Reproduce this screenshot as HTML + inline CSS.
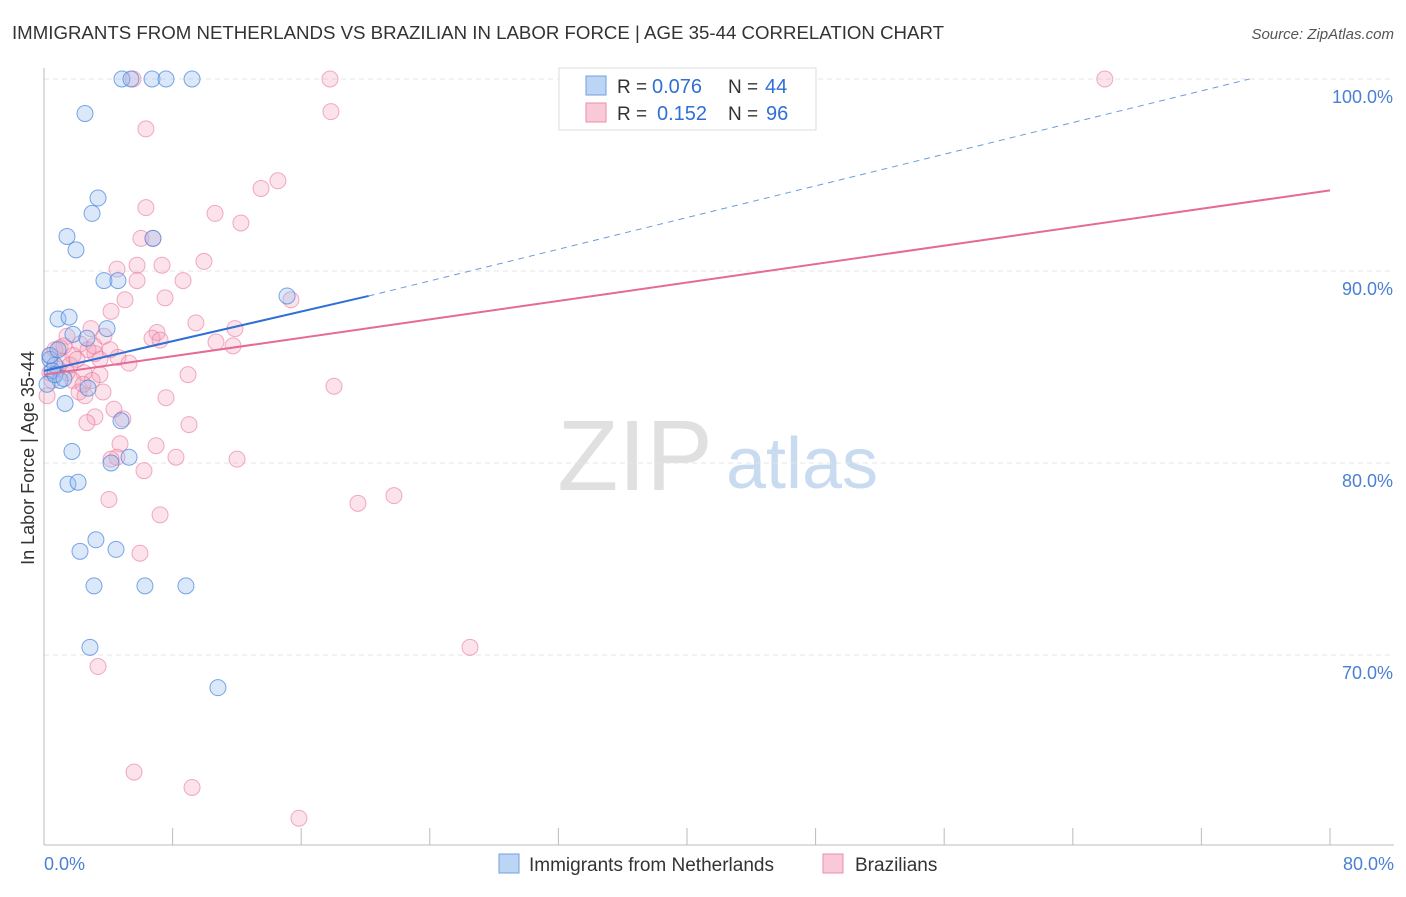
<!DOCTYPE html>
<html><head><meta charset="utf-8"><style>
body{margin:0;background:#fff;font-family:"Liberation Sans",sans-serif;}
svg text{font-family:"Liberation Sans",sans-serif;}
</style></head><body>
<svg id="chart" width="1406" height="892" viewBox="0 0 1406 892" xmlns="http://www.w3.org/2000/svg">
<text x="12" y="39" font-size="18" fill="#333" textLength="932" lengthAdjust="spacingAndGlyphs">IMMIGRANTS FROM NETHERLANDS VS BRAZILIAN IN LABOR FORCE | AGE 35-44 CORRELATION CHART</text>
<text x="1394" y="39" font-size="15" fill="#555" text-anchor="end" font-style="italic">Source: ZipAtlas.com</text>
<g>
<text x="635" y="490" font-size="100" fill="#e0e0e0" font-family="Liberation Serif, serif" text-anchor="middle">ZIP</text>
<text x="802" y="488" font-size="72" fill="#c9dbf0" text-anchor="middle">atlas</text>
</g>
<g id="grid"></g>
<g id="axes"></g>
<g id="pts"></g>
<g id="trends"></g>
<text transform="translate(34,458) rotate(-90)" font-size="18" fill="#333" text-anchor="middle">In Labor Force | Age 35-44</text>
<g>
<rect x="559" y="68" width="257" height="62" fill="#fff" stroke="#ddd"/>
<rect x="586" y="76" width="20" height="19" fill="#bcd5f5" stroke="#6fa0e0"/>
<text x="617" y="93" font-size="19" fill="#333">R =</text>
<text x="652" y="93" font-size="20" fill="#2f6fd6">0.076</text>
<text x="728" y="93" font-size="19" fill="#333">N =</text>
<text x="765" y="93" font-size="20" fill="#2f6fd6">44</text>
<rect x="586" y="103" width="20" height="19" fill="#f9c9d7" stroke="#eb8fae"/>
<text x="617" y="120" font-size="19" fill="#333">R =</text>
<text x="657" y="120" font-size="20" fill="#2f6fd6">0.152</text>
<text x="728" y="120" font-size="19" fill="#333">N =</text>
<text x="766" y="120" font-size="20" fill="#2f6fd6">96</text>
</g>
<g>
<rect x="499" y="854" width="20" height="19" fill="#bcd5f5" stroke="#6fa0e0"/>
<text x="529" y="871" font-size="19" fill="#333">Immigrants from Netherlands</text>
<rect x="823" y="854" width="20" height="19" fill="#f9c9d7" stroke="#eb8fae"/>
<text x="855" y="871" font-size="19" fill="#333">Brazilians</text>
</g>
</svg>
<script>
const yTicks=[70,80,90,100];
const yTickLabels=["70.0%","80.0%","90.0%","100.0%"];
const xEndLabels=["0.0%","80.0%"];
const blueX=[4.85,5.41,6.72,7.59,9.21,2.55,3.36,2.99,1.43,1.99,6.78,3.73,4.60,15.12,0.87,1.56,3.92,1.80,2.67,0.37,0.68,0.50,1.00,2.74,1.31,4.79,1.74,4.17,5.29,1.49,2.12,2.24,3.23,4.48,3.11,6.28,8.83,2.86,10.82,0.19,0.68,1.24,0.37,0.87];
const blueY=[100,100,100,100,100,98.2,93.8,93.0,91.8,91.1,91.7,89.5,89.5,88.7,87.5,87.6,87.0,86.7,86.5,85.4,85.1,84.8,84.3,83.9,83.1,82.2,80.6,80.0,80.3,78.9,79.0,75.4,76.0,75.5,73.6,73.6,73.6,70.4,68.3,84.1,84.6,84.4,85.6,85.9];
const pinkX=[17.79,65.99,5.54,17.85,6.34,14.55,13.50,6.34,10.64,12.25,6.03,6.78,4.54,5.79,7.34,9.95,8.65,5.79,7.53,5.04,4.17,15.36,9.45,11.88,7.03,6.72,7.22,10.70,11.76,3.73,2.92,1.43,1.00,2.24,1.80,3.17,4.60,5.29,2.49,3.48,1.80,2.99,8.96,18.04,3.67,2.18,7.59,4.91,3.17,4.35,2.67,9.02,4.73,6.97,8.21,4.54,4.17,12.01,6.22,4.04,19.53,21.77,7.22,5.97,3.36,26.50,5.60,9.21,15.86,0.37,0.68,1.12,0.19,0.37,1.62,2.74,2.05,1.24,0.50,2.55,3.48,0.87,1.43,4.11,3.11,2.43];
const pinkY=[100,100,100,98.3,97.4,94.7,94.3,93.3,93.0,92.5,91.7,91.7,90.1,90.3,90.3,90.5,89.5,89.5,88.6,88.5,87.9,88.5,87.3,87.0,86.8,86.5,86.4,86.3,86.1,86.6,87.0,86.6,86.0,86.2,85.6,85.7,85.5,85.2,84.7,84.6,84.3,84.3,84.6,84.0,83.7,83.7,83.4,82.3,82.4,82.8,82.1,82.0,81.0,80.9,80.3,80.3,80.2,80.2,79.6,78.1,77.9,78.3,77.3,75.3,69.4,70.4,63.9,63.1,61.5,85.6,85.9,85.3,83.5,84.7,85.1,85.9,85.4,86.1,84.3,83.5,85.4,84.9,84.7,85.9,86.1,84.1];
const blueTrend=[[0,84.8],[20.2,88.7],[75.0,100]];
const pinkTrend=[[0,84.6],[80,94.2]];
const NS="http://www.w3.org/2000/svg";
const X=v=>44+v*(1286/80);
const Y=v=>79+(100-v)*19.2;
function mk(t,a,p){const e=document.createElementNS(NS,t);for(const k in a)e.setAttribute(k,a[k]);p.appendChild(e);return e;}
const grid=document.getElementById('grid'),axes=document.getElementById('axes'),pts=document.getElementById('pts'),tr=document.getElementById('trends');
yTicks.forEach((t,i)=>{
 const l=mk('line',{x1:44,x2:1394,y1:Y(t),y2:Y(t),stroke:'#e4e4e4','stroke-dasharray':'5,4'},grid);
 
 
 const tx=mk('text',{x:1393,y:Y(t)+24,'font-size':18,fill:'#4a7fd4','text-anchor':'end'},axes);
 tx.textContent=yTickLabels[i];
 
 
});
const ax=mk('line',{x1:44,x2:44,y1:68,y2:845,stroke:'#bbb'},axes);


const bx=mk('line',{x1:44,x2:1394,y1:845,y2:845,stroke:'#bbb'},axes);


for(let i=0;i<=10;i++){
 const tk=mk('line',{x1:X(i*8),x2:X(i*8),y1:828,y2:845,stroke:'#bbb'},axes);
 
 
}
[[0,'start',44],[80,'end',1394]].forEach((d,i)=>{
 const t=mk('text',{x:d[2],y:870,'font-size':18,fill:'#4a7fd4','text-anchor':d[1]},axes);
 t.textContent=xEndLabels[i];
 
 
});
pinkX.forEach((v,i)=>{
 const c=mk('circle',{cx:X(v),cy:Y(pinkY[i]),r:8,fill:'rgba(244,160,186,0.3)',stroke:'rgba(232,120,155,0.6)','stroke-width':1},pts);
 
 
});
blueX.forEach((v,i)=>{
 const c=mk('circle',{cx:X(v),cy:Y(blueY[i]),r:8,fill:'rgba(150,190,240,0.35)',stroke:'rgba(70,130,220,0.7)','stroke-width':1},pts);
 
 
});
const b1=mk('line',{x1:X(blueTrend[0][0]),y1:Y(blueTrend[0][1]),x2:X(blueTrend[1][0]),y2:Y(blueTrend[1][1]),stroke:'#2f6fd6','stroke-width':2},tr);


const b2=mk('line',{x1:X(blueTrend[1][0]),y1:Y(blueTrend[1][1]),x2:X(blueTrend[2][0]),y2:Y(blueTrend[2][1]),stroke:'#6d9be0','stroke-width':1,'stroke-dasharray':'6,5'},tr);


const p1=mk('line',{x1:X(pinkTrend[0][0]),y1:Y(pinkTrend[0][1]),x2:X(pinkTrend[1][0]),y2:Y(pinkTrend[1][1]),stroke:'#e56a95','stroke-width':2},tr);


</script>
</body></html>
